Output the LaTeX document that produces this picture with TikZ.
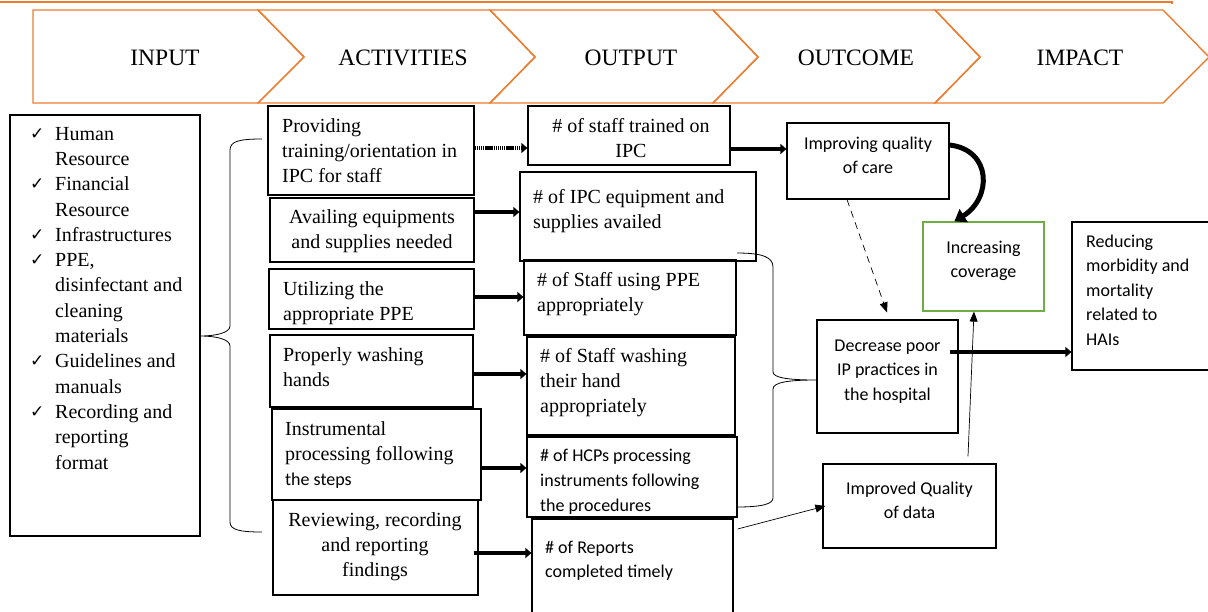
\documentclass[tikz,border=0pt]{standalone}
\usepackage{fontspec}
\setmainfont{Liberation Serif}
\newfontfamily\calibri{Carlito}
\newfontfamily\symfont{DejaVu Sans}
\usetikzlibrary{arrows.meta,calc}
\definecolor{chevorange}{HTML}{ED7D31}
\definecolor{boxgreen}{HTML}{70AD47}
\newcommand{\chkmark}{\makebox[22pt][l]{\hspace*{-3pt}\raisebox{1pt}{\symfont\fontsize{17}{17}\selectfont ✓}}}
\newcommand{\chkindent}{\hspace*{22pt}}
\begin{document}
\begin{tikzpicture}[x=1pt,y=-1pt,
  box/.style={draw,line width=1.2pt,inner sep=0pt},
  serif/.style={inner sep=0pt,font=\fontsize{20}{25.3}\selectfont},
  sans/.style={inner sep=0pt,font=\calibri\fontsize{18}{24.6}\selectfont},
  thickarrow/.style={line width=3.8pt,-{Triangle[length=6pt,width=10pt]}},
  thinarrow/.style={line width=0.7pt,-{Triangle[length=10pt,width=8pt]}},
  chev/.style={draw=chevorange,line width=1.4pt,line join=miter},
  chevlabel/.style={inner sep=0pt,font=\fontsize{23.5}{28}\selectfont},
  brace/.style={draw,line width=0.8pt},
]
\useasboundingbox (0,0) rectangle (1208,611);

% banner: orange rule and chevrons
\draw[draw=chevorange,line width=1.3pt] (0,2) -- (1172,2) -- (1172,4);
\draw[chev] (33,10) -- (258,10) -- (304,57) -- (258,103) -- (33,103) -- cycle;
\draw[chev] (258,10) -- (490,10) -- (535,57) -- (490,103) -- (258,103) -- (304,57) -- cycle;
\draw[chev] (490,10) -- (713,10) -- (758,57) -- (713,103) -- (490,103) -- (535,57) -- cycle;
\draw[chev] (713,10) -- (935,10) -- (980,57) -- (935,103) -- (713,103) -- (758,57) -- cycle;
\draw[chev] (935,10) -- (1163,10) -- (1209,57) -- (1163,103) -- (935,103) -- (980,57) -- cycle;
\node[chevlabel,anchor=base] (hin) at (165,65) {INPUT};
\node[chevlabel,anchor=base] (hact) at (403,65) {ACTIVITIES};
\node[chevlabel,anchor=base] (hout) at (631,65) {OUTPUT};
\node[chevlabel,anchor=base] (hoc) at (856,65) {OUTCOME};
\node[chevlabel,anchor=base] (himp) at (1080,65) {IMPACT};

% boxes
\node[box,minimum width=190,minimum height=421] (inp) at (105,325.5) {};
\node[box,minimum width=206,minimum height=89] (a1) at (371,150.5) {};
\node[box,minimum width=204,minimum height=64] (a2) at (372,230) {};
\node[box,minimum width=205,minimum height=60] (a3) at (371.5,299) {};
\node[box,minimum width=203,minimum height=72] (a4) at (371.5,371) {};
\node[box,minimum width=209,minimum height=91] (a5) at (376.5,454.5) {};
\node[box,minimum width=205,minimum height=95] (a6) at (375.5,547.5) {};
\node[box,minimum width=202,minimum height=59] (o1) at (629,135.5) {};
\node[box,minimum width=236,minimum height=89] (o2) at (638,216.5) {};
\node[box,minimum width=212,minimum height=75] (o3) at (630,297.5) {};
\node[box,minimum width=208,minimum height=98] (o4) at (631,386) {};
\node[box,minimum width=210,minimum height=80] (o5) at (632,477) {};
\node[box,minimum width=201,minimum height=101] (o6) at (632.5,569.5) {};
\node[box,minimum width=162,minimum height=76] (q1) at (868,161) {};
\node[box,draw=boxgreen,minimum width=121,minimum height=89] (q2) at (983.5,266.5) {};
\node[box,minimum width=141,minimum height=113] (q3) at (887.5,376.5) {};
\node[box,minimum width=173,minimum height=84] (q4) at (909.5,506) {};
\node[box,minimum width=143,minimum height=148] (imp) at (1143.5,296) {};

% input list (anchored at the baseline of its last line)
\node[serif,anchor=base west,align=left] (inptext) at (33,469) {%
\chkmark Human\\\chkindent Resource\\
\chkmark Financial\\\chkindent Resource\\
\chkmark Infrastructures\\
\chkmark PPE,\\\chkindent disinfectant and\\\chkindent cleaning\\\chkindent materials\\
\chkmark Guidelines and\\\chkindent manuals\\
\chkmark Recording and\\\chkindent reporting\\\chkindent format};

% activities
\node[serif,anchor=base west,align=left] (a1t) at (282,182.6) {Providing\\training/orientation in\\IPC for staff};
\node[serif,anchor=base,align=center] (a2t) at (372,248.3) {Availing equipments\\and supplies needed};
\node[serif,anchor=base west,align=left] (a3t) at (283,320.3) {Utilizing the\\appropriate PPE};
\node[serif,anchor=base west,align=left] (a4t) at (283,386.3) {Properly washing\\hands};
\node[serif,anchor=base west,align=left] (a5t) at (285,485.6) {Instrumental\\processing following\\{\calibri\fontsize{18}{24.6}\selectfont the steps}};
\node[serif,anchor=base,align=center] (a6t) at (375,576.6) {Reviewing, recording\\and reporting\\findings};

% outputs
\node[serif,anchor=base,align=center] (o1t) at (631,157.3) {\# of staff trained on\\IPC};
\node[serif,anchor=base west,align=left] (o2t) at (533,228.3) {\# of IPC equipment and\\supplies availed};
\node[serif,anchor=base west,align=left] (o3t) at (537,311.3) {\# of Staff using PPE\\appropriately};
\node[serif,anchor=base west,align=left] (o4t) at (540,412.6) {\# of Staff washing\\their hand\\appropriately};
\node[sans,anchor=base west,align=left,font=\calibri\fontsize{18}{25}\selectfont] (o5t) at (540,511) {\# of HCPs processing\\instruments following\\the procedures};
\node[sans,anchor=base west,align=left] (o6t) at (545,577.6) {\# of Reports\\completed timely};

% outcomes and impact
\node[sans,anchor=base,align=center] (q1t) at (868,173.6) {Improving quality\\of care};
\node[sans,anchor=base,align=center] (q2t) at (983.5,277.6) {Increasing\\coverage};
\node[sans,anchor=base,align=center] (q3t) at (887.5,400.2) {Decrease poor\\IP practices in\\the hospital};
\node[sans,anchor=base,align=center] (q4t) at (909.5,518.6) {Improved Quality\\of data};
\node[sans,anchor=base west,align=left] (impt) at (1086,345.4) {Reducing\\morbidity and\\mortality\\related to\\HAIs};

% braces
\draw[brace] (262,139) .. controls (240,139) and (230,141) .. (230,150) -- (230,326)
  .. controls (230,333) and (215,336) .. (inp.east |- 0,336)
  .. controls (215,336) and (230,339) .. (230,346) -- (230,522)
  .. controls (230,530) and (240,532) .. (262,532);
\draw[brace] (737,253) .. controls (762,253) and (773,257) .. (773,267) -- (773,372)
  .. controls (773,378) and (790,380) .. (q3.west |- 0,380)
  .. controls (790,380) and (773,382) .. (773,389) -- (773,498)
  .. controls (773,504) and (762,507) .. (737,507);

% activity -> output arrows
\draw[thickarrow,dash pattern=on 1.4pt off 0.7pt] (a1.east |- 0,148) -- (o1.west |- 0,148);
\draw[thickarrow] (a2.east |- 0,212) -- (o2.west |- 0,212);
\draw[thickarrow] (a3.east |- 0,297) -- (o3.west |- 0,297);
\draw[thickarrow] (a4.east |- 0,374) -- (o4.west |- 0,374);
\draw[thickarrow,line width=4.5pt] (a5.east |- 0,468) -- (o5.west |- 0,468);
\draw[thickarrow] ($(a6.east |- 0,553)+(-5,0)$) -- (o6.west |- 0,553);

% output -> outcome -> impact arrows
\draw[thickarrow,line width=4.5pt] (o1.east |- 0,149) -- (q1.west |- 0,149);
\draw[line width=5pt,-{Triangle[length=11pt,width=15pt]}] (q1.east |- 0,145)
  .. controls (992,150) and (992,198) .. ($(q2.north west)+(32,0)$);
\draw[thinarrow,dash pattern=on 7pt off 5pt] (q1.south -| 847,0) -- ($(q3.north -| 887,0)+(0,-7)$);
\draw[thinarrow] ($(q4.north -| 968,0)+(0,-7)$) -- (q2.south -| 974,0);
\draw[thickarrow,line width=4.5pt] ($(q3.east |- 0,352)+(-9,0)$) -- (imp.west |- 0,352);
\draw[thinarrow] ($(o6.east |- 0,529)+(4,0)$) -- ($(q4.west |- 0,506)+(3,0)$);
\end{tikzpicture}
\end{document}
